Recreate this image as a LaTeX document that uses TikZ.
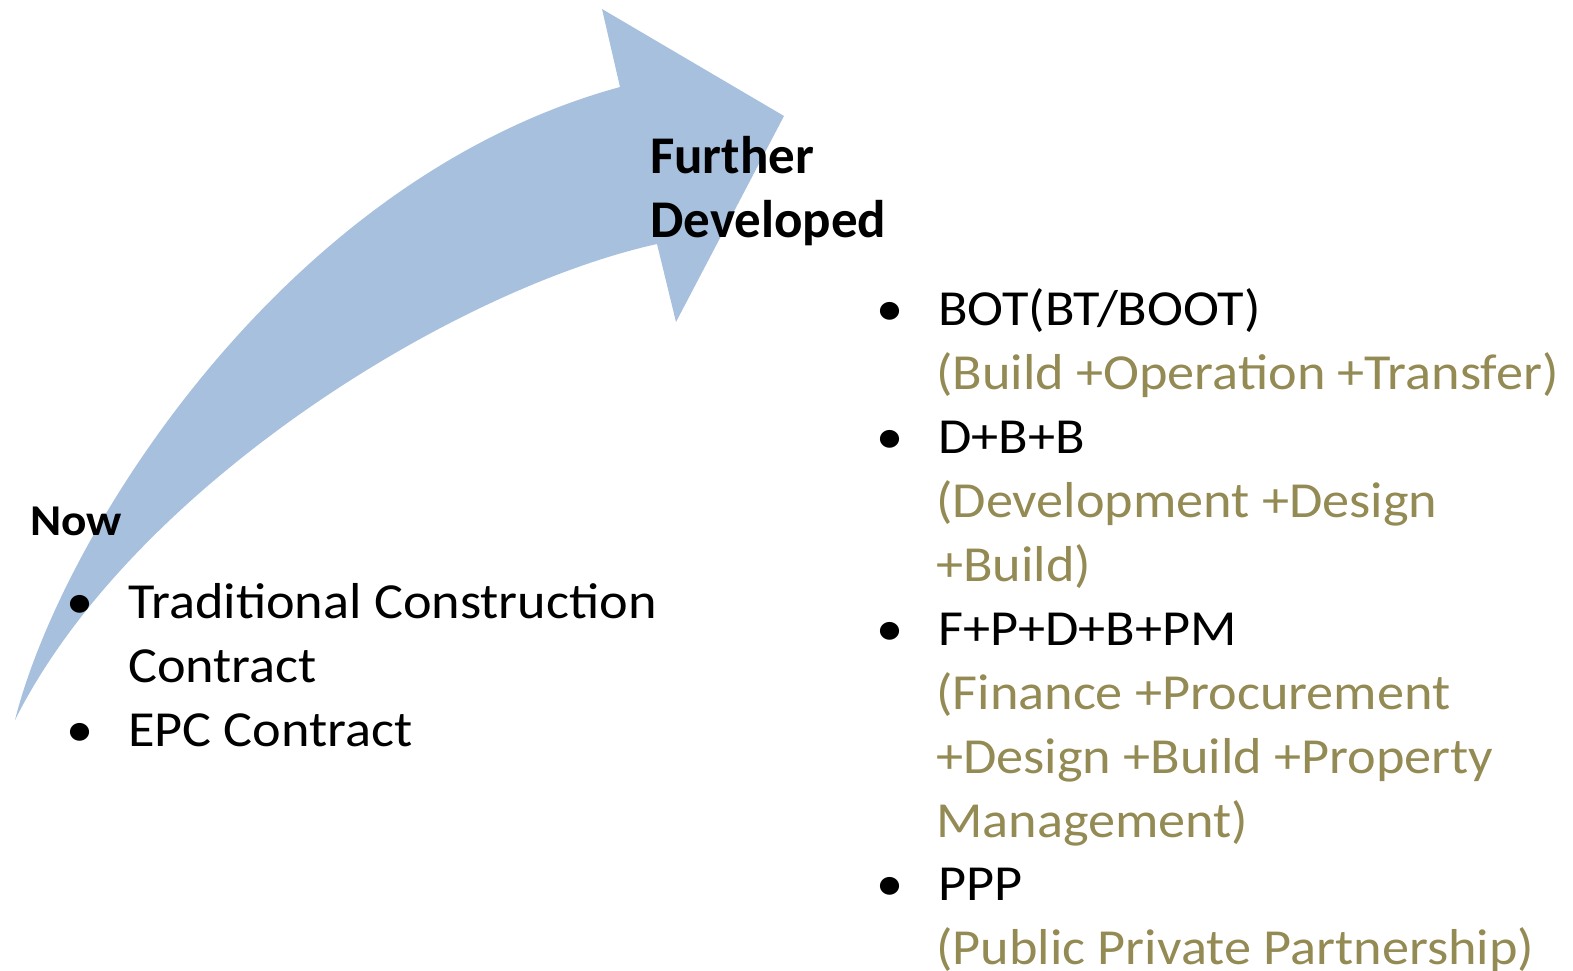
\documentclass[tikz,border=0pt]{standalone}
\usepackage{fontspec}
\setmainfont{Carlito}[FakeStretch=1.075]
\newfontfamily\headfont{Carlito}
\definecolor{arrowblue}{HTML}{A7C0DE}
\definecolor{olivetext}{HTML}{948A54}
\begin{document}
\begin{tikzpicture}[x=1pt,y=-1pt,
  txt/.style={anchor=base west, inner sep=0pt, font=\fontsize{50.5}{64}\selectfont},
  sub/.style={txt, text=olivetext},
  head/.style={anchor=base west, inner sep=0pt, font=\headfont\fontsize{53}{64}\selectfont\bfseries},
  headsmall/.style={anchor=base west, inner sep=0pt, font=\fontsize{44}{64}\selectfont\bfseries}]
\useasboundingbox (0,0) rectangle (1573,971);
% curved arrow
\fill[arrowblue] (15,720) .. controls (60,540) and (280,180) .. (620,87)
  -- (602,9) -- (784,116) -- (676,322) -- (657,244)
  .. controls (450,290) and (130,490) .. (15,720) -- cycle;
% headings
\node[headsmall] (now) at (30,535) {Now};
\node[head] (fur1) at (650,173) {Further};
\node[head] (fur2) at (650,237) {Developed};
% left list
\node[txt] (lb1) at (66,618) {•};
\node[txt] (l1a) at (128,618) {Traditional Construction};
\node[txt] (l1b) at (128,682) {Contract};
\node[txt] (lb2) at (66,746) {•};
\node[txt] (l2a) at (128,746) {EPC Contract};
% right list
\node[txt] (rb1) at (876,325) {•};
\node[txt] (r1a) at (938,325) {BOT(BT/BOOT)};
\node[sub] (r1b) at (936,389) {(Build +Operation +Transfer)};
\node[txt] (rb2) at (876,453) {•};
\node[txt] (r2a) at (938,453) {D+B+B};
\node[sub] (r2b) at (936,517) {(Development +Design};
\node[sub] (r2c) at (936,581) {+Build)};
\node[txt] (rb3) at (876,645) {•};
\node[txt] (r3a) at (938,645) {F+P+D+B+PM};
\node[sub] (r3b) at (936,709) {(Finance +Procurement};
\node[sub] (r3c) at (936,773) {+Design +Build +Property};
\node[sub] (r3d) at (936,837) {Management)};
\node[txt] (rb4) at (876,900) {•};
\node[txt] (r4a) at (938,900) {PPP};
\node[sub] (r4b) at (936,964) {(Public Private Partnership)};
\end{tikzpicture}
\end{document}
